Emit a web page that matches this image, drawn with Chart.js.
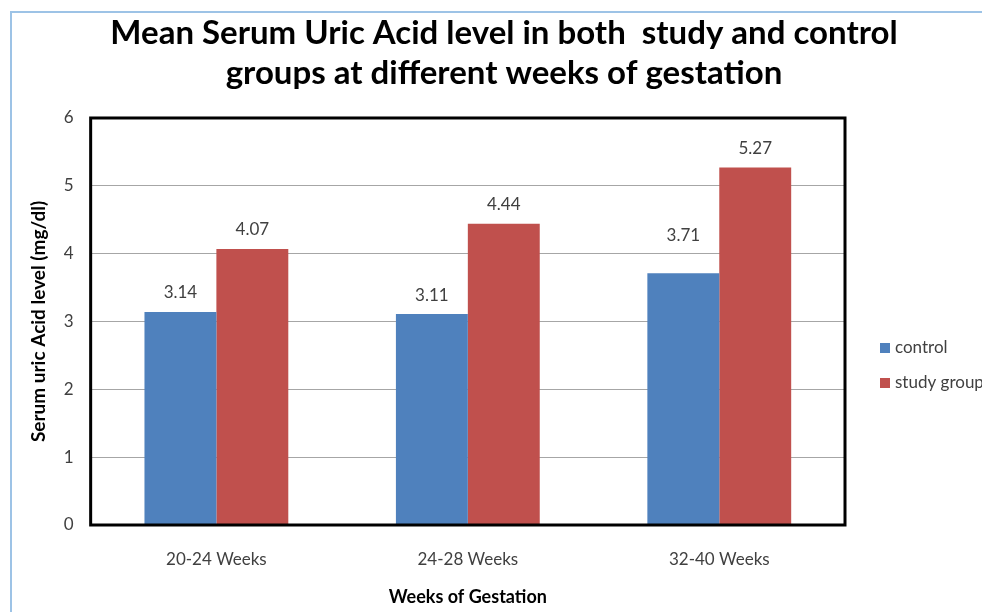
<!DOCTYPE html>
<html>
<head>
<meta charset="utf-8">
<script src="https://cdn.jsdelivr.net/npm/chart.js@4.4.1/dist/chart.umd.min.js"></script>
<style>
  html, body { margin: 0; padding: 0; background: #fff; overflow: hidden; }
  #wrap { position: relative; width: 982px; height: 612px; }
  #frame { position: absolute; left: 10px; top: 11px; right: -5px; bottom: -5px;
           border-left: 2px solid #9dc3e6; border-top: 2px solid #9dc3e6; }
  canvas { position: absolute; left: 0; top: 0; }
</style>
</head>
<body>
<div id="wrap">
  <div id="frame"></div>
  <canvas id="chart" width="982" height="612"></canvas>
</div>
<script>
// Data
const weeks = ['20-24 Weeks', '24-28 Weeks', '32-40 Weeks'];
const controlValues = [3.14, 3.11, 3.71];
const studyValues = [4.07, 4.44, 5.27];
const yTicks = [0, 1, 2, 3, 4, 5, 6];

const FONT = 'Lato, "Open Sans", sans-serif';
const TEXT = '#404040';

// Value labels above each bar
const valueLabels = {
  id: 'valueLabels',
  afterDatasetsDraw(chart) {
    const ctx = chart.ctx;
    // the 3.71 label sits higher in the original
    const raised = { '0-2': 19 };
    ctx.save();
    ctx.font = '17px ' + FONT;
    ctx.fillStyle = TEXT;
    ctx.textAlign = 'center';
    ctx.textBaseline = 'middle';
    chart.data.datasets.forEach((ds, di) => {
      chart.getDatasetMeta(di).data.forEach((bar, i) => {
        const extra = raised[di + '-' + i] || 0;
        ctx.fillText(ds.data[i].toFixed(2), bar.x, bar.y - 19 - extra);
      });
    });
    ctx.restore();
  }
};

// Black frame around the plot area
const plotFrame = {
  id: 'plotFrame',
  afterDatasetsDraw(chart) {
    const { ctx, chartArea: a } = chart;
    ctx.save();
    ctx.strokeStyle = '#000';
    ctx.lineWidth = 3;
    ctx.strokeRect(a.left, a.top, a.right - a.left, a.bottom - a.top);
    ctx.restore();
  }
};

// Legend to the right of the plot
const sideLegend = {
  id: 'sideLegend',
  afterDraw(chart) {
    const { ctx, chartArea: a } = chart;
    const mid = (a.top + a.bottom) / 2;
    ctx.save();
    ctx.font = '17px ' + FONT;
    ctx.textBaseline = 'middle';
    chart.data.datasets.forEach((ds, i) => {
      const y = mid + 26.5 + i * 35;
      const x = a.right + 35;
      ctx.fillStyle = ds.backgroundColor;
      ctx.fillRect(x, y - 5, 10, 10);
      ctx.fillStyle = TEXT;
      ctx.fillText(ds.label, x + 15, y);
    });
    ctx.restore();
  }
};

new Chart(document.getElementById('chart'), {
  type: 'bar',
  data: {
    labels: weeks,
    datasets: [
      { label: 'control', data: controlValues, backgroundColor: '#4f81bd',
        categoryPercentage: 0.572, barPercentage: 1 },
      { label: 'study group', data: studyValues, backgroundColor: '#c0504d',
        categoryPercentage: 0.572, barPercentage: 1 }
    ]
  },
  options: {
    responsive: false,
    animation: false,
    layout: { padding: { left: 26, right: 0, top: 13, bottom: 4 } },
    plugins: {
      legend: { display: false },
      tooltip: { enabled: false },
      title: {
        display: true,
        text: ['Mean Serum Uric Acid level in both  study and control',
               'groups at different weeks of gestation'],
        color: '#000',
        font: { family: FONT, size: 33, weight: 'bold', lineHeight: 1.212 },
        padding: { top: 0, bottom: 25 }
      }
    },
    scales: {
      x: {
        grid: { display: true, drawOnChartArea: false, drawTicks: true,
                tickLength: 14, tickColor: 'transparent' },
        border: { display: false },
        ticks: { color: TEXT, font: { family: FONT, size: 17 }, padding: 10 },
        title: {
          display: true, text: 'Weeks of Gestation', color: '#000',
          font: { family: FONT, size: 18, weight: 'bold' },
          padding: { top: 7, bottom: 0 }
        }
      },
      y: {
        min: 0, max: 6,
        afterBuildTicks: (s) => { s.ticks = yTicks.map(v => ({ value: v })); },
        grid: { color: '#a6a6a6', lineWidth: 1, drawTicks: true,
                tickLength: 10, tickColor: 'transparent' },
        border: { display: false },
        ticks: { color: TEXT, font: { family: FONT, size: 17 }, padding: 7 },
        title: {
          display: true, text: 'Serum uric Acid level (mg/dl)', color: '#000',
          font: { family: FONT, size: 19, weight: 'bold' },
          padding: { top: 1, bottom: 7 }
        }
      },
      // empty right-hand axis that reserves room for the legend
      side: {
        position: 'right',
        grid: { display: false, drawTicks: false },
        border: { display: false },
        ticks: { display: false },
        afterFit: (s) => { s.width = 137; }
      }
    }
  },
  plugins: [valueLabels, plotFrame, sideLegend]
});
</script>
</body>
</html>
